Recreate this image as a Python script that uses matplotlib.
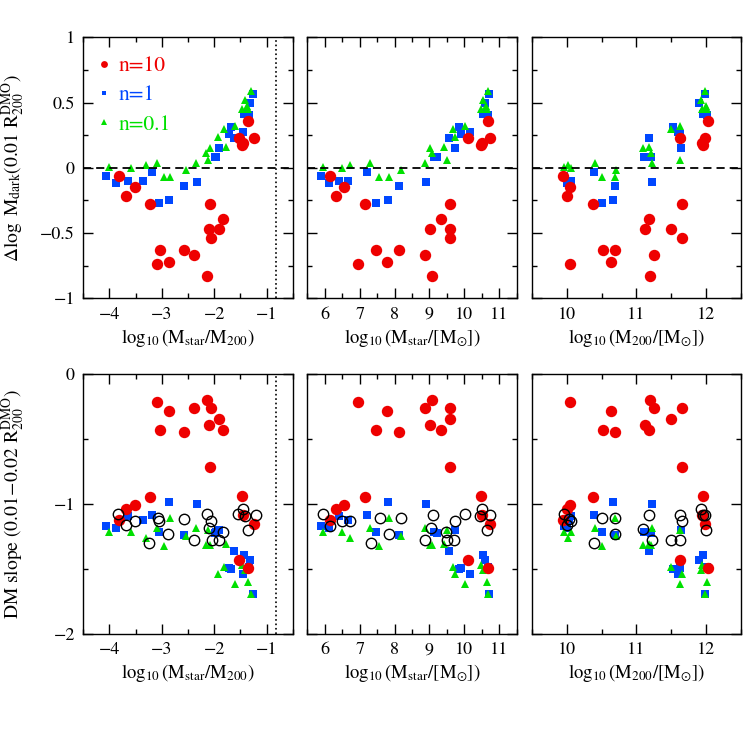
import numpy as np
import matplotlib
matplotlib.use("Agg")
import matplotlib.pyplot as plt
from matplotlib.ticker import MultipleLocator, FuncFormatter

plt.rcParams['font.family'] = 'STIXGeneral'
plt.rcParams['mathtext.fontset'] = 'stix'

# n=10 runs: log Mstar, log M200, delta log Mdark, DM slope
red_mstar = [6.14, 6.33, 6.54, 7.15, 7.48, 6.96, 7.77, 8.12, 8.87, 9.07,
             9.58, 9.02, 9.59, 9.59, 9.34, 10.10, 10.48, 10.50, 10.67, 10.74]
red_m200 = [9.95, 10.01, 10.05, 10.38, 10.52, 10.05, 10.64, 10.70, 11.25, 11.20,
            11.65, 11.12, 11.65, 11.50, 11.18, 11.62, 11.95, 11.94, 12.02, 11.98]
red_dm = [-0.06, -0.22, -0.146, -0.28, -0.63, -0.738, -0.72, -0.63, -0.672, -0.83,
          -0.276, -0.47, -0.536, -0.47, -0.396, 0.225, 0.174, 0.19, 0.358, 0.225]
red_slope = [-1.125, -1.04, -1.01, -0.948, -0.433, -0.217, -0.283, -0.446, -0.262, -0.199,
             -0.713, -0.395, -0.262, -0.349, -0.431, -1.427, -0.935, -1.083, -1.496, -1.154]

# n=1 runs
blue_mstar = [5.90, 6.13, 6.41, 6.68, 7.21, 7.46, 7.81, 8.12, 8.90, 9.14,
              9.23, 9.73, 9.55, 9.91, 9.84, 10.15, 10.52, 10.58, 10.72, 10.67]
blue_m200 = [9.96, 10.01, 10.06, 10.03, 10.39, 10.51, 10.67, 10.70, 11.23, 11.11,
             11.21, 11.64, 11.18, 11.63, 11.52, 11.60, 11.95, 11.90, 11.98, 12.01]
blue_dm = [-0.064, -0.117, -0.10, -0.10, -0.036, -0.268, -0.25, -0.138, -0.11, 0.084,
           0.084, 0.151, 0.225, 0.258, 0.314, 0.271, 0.411, 0.493, 0.564, 0.404]
blue_slope = [-1.167, -1.187, -1.096, -1.126, -1.085, -1.213, -0.986, -1.241, -1.001, -1.213,
              -1.223, -1.20, -1.36, -1.493, -1.50, -1.539, -1.396, -1.427, -1.689, -1.483]

# n=0.1 runs
green_mstar = [5.95, 6.48, 6.72, 7.31, 7.56, 7.84, 8.18, 8.88, 9.51, 9.06,
               9.02, 9.41, 9.74, 9.67, 10.02, 10.47, 10.52, 10.66, 10.68, 10.62]
green_m200 = [9.96, 10.06, 10.02, 10.40, 10.51, 10.69, 10.71, 11.22, 11.63, 11.21,
              11.10, 11.18, 11.66, 11.49, 11.62, 11.94, 11.93, 12.01, 11.98, 11.99]
green_dm = [0.008, 0.0, 0.02, 0.038, -0.069, -0.074, -0.018, 0.033, 0.059, 0.11,
            0.148, 0.156, 0.235, 0.294, 0.32, 0.447, 0.519, 0.447, 0.59, 0.47]
green_slope = [-1.215, -1.215, -1.261, -1.185, -1.325, -1.108, -1.248, -1.185, -1.197, -1.317,
               -1.312, -1.307, -1.541, -1.483, -1.613, -1.47, -1.508, -1.60, -1.694, -1.49]

# open black circles (bottom row), read per panel
black_ratio = [-3.83, -3.69, -3.51, -3.24, -3.08, -3.05, -2.89, -2.58, -2.38, -2.13,
               -2.06, -2.10, -2.04, -1.91, -1.83, -1.54, -1.44, -1.42, -1.21, -1.35]
black_ratio_slope = [-1.075, -1.164, -1.129, -1.299, -1.111, -1.134, -1.228, -1.113, -1.274, -1.075,
                     -1.134, -1.185, -1.274, -1.274, -1.215, -1.075, -1.037, -1.09, -1.083, -1.203]
black_mstar = [5.95, 6.14, 6.48, 6.72, 7.32, 7.58, 7.85, 8.18, 8.87, 9.04,
               9.09, 9.47, 9.50, 9.71, 9.73, 10.03, 10.46, 10.51, 10.73, 10.66]
black_mstar_slope = [-1.075, -1.172, -1.129, -1.129, -1.299, -1.108, -1.228, -1.111, -1.274, -1.185,
                     -1.083, -1.218, -1.274, -1.274, -1.134, -1.078, -1.09, -1.037, -1.083, -1.203]
black_m200 = [9.96, 10.00, 10.06, 10.03, 10.39, 10.51, 10.70, 10.69, 11.10, 11.18,
              11.22, 11.49, 11.62, 11.62, 11.66, 11.93, 11.95, 11.98, 12.00]
black_m200_slope = [-1.075, -1.164, -1.129, -1.116, -1.299, -1.108, -1.108, -1.228, -1.192, -1.083,
                    -1.274, -1.274, -1.274, -1.083, -1.134, -1.04, -1.083, -1.083, -1.203]

baryon_line = -0.82

RED = '#ee0000'
BLUE = '#0047ff'
GREEN = '#00e000'


def ratio(ms, mh):
    return np.array(ms) - np.array(mh)


xlabels = [r'$\log_{10}(\mathrm{M_{star}/M_{200}})$',
           r'$\log_{10}(\mathrm{M_{star}/[M_{\odot}]})$',
           r'$\log_{10}(\mathrm{M_{200}/[M_{\odot}]})$']
xlims = [(-4.5, -0.5), (5.5, 11.5), (9.5, 12.5)]

fig = plt.figure(figsize=(7.47, 7.47), dpi=100)
lefts = [0.1115, 0.4114, 0.7118]
w = 0.2803
top_axes = [fig.add_axes([l, 0.6007, w, 0.3494]) for l in lefts]
bot_axes = [fig.add_axes([l, 0.1513, w, 0.3480]) for l in lefts]

fmt = FuncFormatter(lambda v, p: ('%g' % v).replace('-', '\u2212'))

xs_red = [ratio(red_mstar, red_m200), red_mstar, red_m200]
xs_blue = [ratio(blue_mstar, blue_m200), blue_mstar, blue_m200]
xs_green = [ratio(green_mstar, green_m200), green_mstar, green_m200]
xs_black = [(black_ratio, black_ratio_slope), (black_mstar, black_mstar_slope),
            (black_m200, black_m200_slope)]

for i in range(3):
    for row, ax in enumerate([top_axes[i], bot_axes[i]]):
        yb = blue_dm if row == 0 else blue_slope
        yg = green_dm if row == 0 else green_slope
        yr = red_dm if row == 0 else red_slope
        ax.plot(xs_blue[i], yb, 's', color=BLUE, ms=5.3, mew=0, label='n=1')
        ax.plot(xs_green[i], yg, '^', color=GREEN, ms=6.3, mew=0, label='n=0.1')
        ax.plot(xs_red[i], yr, 'o', color=RED, ms=8.2, mew=0, label='n=10')
        if row == 1:
            bx, by = xs_black[i]
            ax.plot(bx, by, 'o', mfc='none', mec='k', ms=7.5, mew=1.0)
        if row == 0:
            ax.axhline(0, color='k', lw=1.3, dashes=[4.5, 2.8])
            ax.set_ylim(-1, 1)
            ax.yaxis.set_major_locator(MultipleLocator(0.5))
            ax.yaxis.set_minor_locator(MultipleLocator(0.25))
        else:
            ax.set_ylim(-2, 0)
            ax.yaxis.set_major_locator(MultipleLocator(1))
            ax.yaxis.set_minor_locator(MultipleLocator(0.5))
        if i == 0:
            ax.axvline(baryon_line, color='k', lw=1.2, ls=':')
        ax.set_xlim(*xlims[i])
        ax.xaxis.set_major_locator(MultipleLocator(1))
        ax.xaxis.set_minor_locator(MultipleLocator(0.5))
        ax.xaxis.set_major_formatter(fmt)
        ax.yaxis.set_major_formatter(fmt)
        ax.tick_params(which='both', direction='in', top=True, right=True, width=1.0)
        ax.tick_params(which='major', length=7, labelsize=13, pad=6)
        ax.tick_params(which='minor', length=3.5)
        if i > 0:
            ax.tick_params(labelleft=False)
        for s in ax.spines.values():
            s.set_linewidth(1.0)
        ax.set_xlabel(xlabels[i], fontsize=13.5, labelpad=3)

top_axes[0].set_ylabel(r'$\Delta\log\ \mathrm{M_{dark}(0.01\ R_{200}^{DMO})}$', fontsize=14)
bot_axes[0].set_ylabel(r'DM slope $(0.01\!-\!0.02\ \mathrm{R_{200}^{DMO}})$', fontsize=14)
top_axes[0].yaxis.set_label_coords(-0.27, 0.5)
bot_axes[0].yaxis.set_label_coords(-0.27, 0.5)

h, l = top_axes[0].get_legend_handles_labels()
order = [2, 0, 1]
top_axes[0].legend([h[k] for k in order], [l[k] for k in order], loc='upper left',
                   bbox_to_anchor=(0.0, 0.985),
                   frameon=False, fontsize=15.5, markerscale=0.6, handlelength=0.5,
                   handletextpad=0.45, labelspacing=0.42, borderaxespad=0.3,
                   labelcolor=[RED, BLUE, GREEN])

fig.savefig('out.png', dpi=100)
